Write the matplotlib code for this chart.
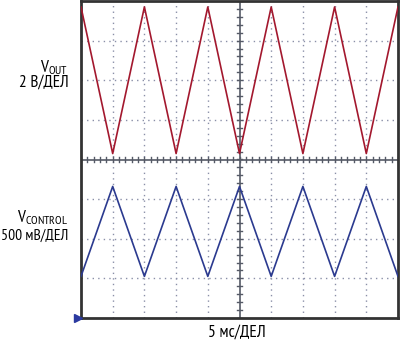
import matplotlib
matplotlib.use("Agg")
import matplotlib.pyplot as plt
from matplotlib import font_manager
import numpy as np

names = {f.name for f in font_manager.fontManager.ttflist}
main_font = next((n for n in ['PT Sans Narrow', 'Roboto Condensed', 'Liberation Sans'] if n in names), 'DejaVu Sans')
plt.rcParams['font.family'] = [main_font, 'DejaVu Sans']
plt.rcParams['mathtext.fontset'] = 'custom'
plt.rcParams['mathtext.rm'] = main_font
plt.rcParams['mathtext.it'] = main_font

# Time of triangle vertices, in divisions (5 ms/div)
t_vertices = [0, 1, 2, 3, 4, 5, 6, 7, 8, 9, 10]
# VOUT trace (divisions, screen position; 2 V/div)
vout_div = [3.85, 0.15, 3.85, 0.15, 3.85, 0.15, 3.85, 0.15, 3.85, 0.15, 3.85]
# VCONTROL trace (divisions, screen position; 500 mV/div)
vctrl_div = [-2.95, -0.68, -2.95, -0.68, -2.95, -0.68, -2.95, -0.68, -2.95, -0.68, -2.95]

label_vout_sub = "OUT"
label_vout_scale = "2 В/ДЕЛ"
label_vctrl_sub = "CONTROL"
label_vctrl_scale = "500 мВ/ДЕЛ"
label_time = "5 мс/ДЕЛ"

fig = plt.figure(figsize=(4.0, 3.46), dpi=100)
ax = fig.add_axes([81/400, 1 - 318/346, (398-81)/400, (318-1)/346])
ax.set_xlim(0, 10)
ax.set_ylim(-4, 4)

grid_col = '#8a8fa8'
for x in range(1, 10):
    if x != 5:
        ax.axvline(x, color=grid_col, lw=1.0, ls=(0, (1, 3)), zorder=1)
for y in range(-3, 4):
    if y != 0:
        ax.axhline(y, color=grid_col, lw=1.0, ls=(0, (1, 3)), zorder=1)

cross_col = '#555a66'
ax.axhline(0, color=cross_col, lw=1.2, zorder=2)
ax.axvline(5, color=cross_col, lw=1.2, zorder=2)
for x in np.arange(0, 10.01, 0.2):
    ax.plot([x, x], [-0.06, 0.06], color=cross_col, lw=1.0, zorder=2)
for y in np.arange(-4, 4.01, 0.2):
    ax.plot([4.93, 5.07], [y, y], color=cross_col, lw=1.0, zorder=2)

ax.plot(t_vertices, vout_div, color='#a3182e', lw=1.2, zorder=3)
ax.plot(t_vertices, vctrl_div, color='#2b3a8f', lw=1.2, zorder=3)

for s in ax.spines.values():
    s.set_color('#333333')
    s.set_linewidth(2.0)
ax.set_xticks([])
ax.set_yticks([])

# trigger/ground marker
ax.plot([-0.09], [-4], marker='>', color='#2b3aa0', markersize=6, clip_on=False, zorder=5)

# fit font size so the widest label spans about 68 px
renderer = fig.canvas.get_renderer()
probe = fig.text(0, 0, label_vctrl_scale, fontsize=10)
w = probe.get_window_extent(renderer).width
probe.remove()
fs = 10 * 67.5 / w

xr = 68.5 / 400
fig.text(xr, 1 - 68/346, "V$_{\\mathrm{" + label_vout_sub + "}}$", ha='right', va='center', fontsize=fs * 1.1)
fig.text(xr, 1 - 83/346, label_vout_scale, ha='right', va='center', fontsize=fs * 1.1)
fig.text(xr, 1 - 218/346, "V$_{\\mathrm{" + label_vctrl_sub + "}}$", ha='right', va='center', fontsize=fs * 1.1)
fig.text(xr, 1 - 236/346, label_vctrl_scale, ha='right', va='center', fontsize=fs)
fig.text(237/400, 1 - 333/346, label_time, ha='center', va='center', fontsize=fs * 1.12)

fig.savefig("out.png", dpi=100)
